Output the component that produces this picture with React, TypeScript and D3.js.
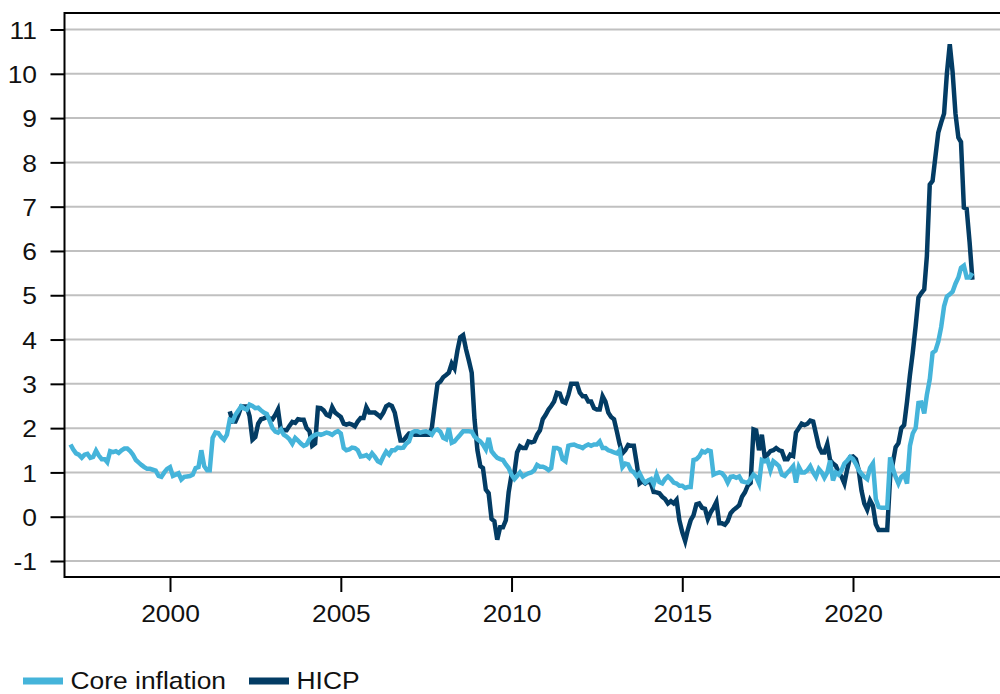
import { useEffect, useRef } from 'react';
import * as d3 from 'd3';

// monthly observations, plotted at month end
const coreStart = new Date(1997, 0, 1);
const hicpStart = new Date(2001, 8, 1);

const coreValues = [
  1.63, 1.52, 1.43, 1.4, 1.33, 1.4, 1.42, 1.33, 1.35, 1.49, 1.38, 1.3,
  1.3, 1.23, 1.48, 1.46, 1.48, 1.44, 1.5, 1.54, 1.54, 1.48, 1.4, 1.28,
  1.22, 1.17, 1.12, 1.08, 1.08, 1.06, 1.04, 0.92, 0.9, 1.0, 1.08, 1.12,
  0.92, 0.95, 0.98, 0.84, 0.9, 0.91, 0.92, 0.95, 1.1, 1.12, 1.5, 1.14,
  1.05, 1.05, 1.78, 1.9, 1.89, 1.8, 1.74, 1.85, 2.19, 2.16, 2.3, 2.4,
  2.49, 2.45, 2.42, 2.53, 2.5, 2.45, 2.46, 2.4, 2.35, 2.32, 2.17, 2.0,
  1.92, 1.9, 1.97, 1.85, 1.81, 1.75, 1.65, 1.78, 1.72, 1.65, 1.6, 1.63,
  1.75, 1.81, 1.85, 1.87, 1.85, 1.87, 1.9, 1.88, 1.85, 1.9, 1.93, 1.88,
  1.55, 1.5, 1.52, 1.56, 1.55, 1.5, 1.36, 1.37, 1.39, 1.33, 1.43, 1.35,
  1.25, 1.22, 1.36, 1.47, 1.4, 1.5, 1.5, 1.56, 1.55, 1.56, 1.65, 1.7,
  1.9, 1.93, 1.93, 1.9, 1.92, 1.93, 1.9, 1.85, 1.95, 1.97, 1.92, 1.78,
  1.75, 2.0, 1.67, 1.7, 1.78, 1.85, 1.93, 1.93, 1.93, 1.92, 1.81, 1.75,
  1.7, 1.63, 1.52, 1.78, 1.48, 1.4, 1.33, 1.3, 1.28, 1.18, 1.1, 0.95,
  0.85, 0.92, 1.0, 0.91, 0.95, 0.98, 1.0, 1.05, 1.17, 1.13, 1.13, 1.1,
  1.05, 1.1, 1.55, 1.55, 1.52, 1.3, 1.25, 1.6, 1.62, 1.63, 1.6, 1.58,
  1.55, 1.6, 1.63, 1.6, 1.63, 1.63, 1.7, 1.55, 1.55, 1.5, 1.48, 1.45,
  1.43, 1.5, 1.12, 1.2, 1.18, 1.05, 1.0, 0.91, 0.98, 0.85, 0.77, 0.82,
  0.85, 0.73, 0.95, 0.78, 0.75, 0.85, 0.91, 0.85, 0.77, 0.75, 0.7, 0.7,
  0.65, 0.67, 0.67, 1.28, 1.3, 1.36, 1.48, 1.45, 1.5, 1.48, 0.95, 0.98,
  1.0, 0.98, 0.9, 0.77, 0.9, 0.91, 0.88, 0.91, 0.8, 0.78, 0.77, 0.85,
  0.95, 0.9, 0.75, 1.28, 1.25, 1.28, 1.05, 1.25, 1.2, 1.14, 0.95, 0.92,
  1.0, 1.06, 1.14, 0.77, 1.12, 1.0, 1.0, 1.05, 1.14, 1.0, 0.9, 1.08,
  1.0, 0.88, 1.0, 1.27, 0.82, 1.0, 0.95, 1.05, 1.2, 1.27, 1.35, 1.3,
  1.19, 1.06, 0.97, 0.9, 0.85, 1.1, 1.2, 0.4, 0.22, 0.2, 0.2, 0.2,
  1.34, 1.1, 0.9, 0.75, 0.9, 0.95, 0.75, 1.6, 1.88, 2.0, 2.57, 2.58,
  2.33, 2.75, 3.1, 3.7, 3.75, 3.95, 4.28, 4.75, 4.97, 5.02, 5.08, 5.26,
  5.4, 5.62, 5.67, 5.4, 5.4, 5.5,
];

const hicpValues = [
  2.38, 2.15, 2.15, 2.3, 2.49, 2.49, 2.49, 2.27, 1.74, 1.8, 2.1, 2.2,
  2.22, 2.25, 2.22, 2.2, 2.3, 2.42, 1.95, 1.95, 1.95, 2.05, 2.14, 2.12,
  2.2, 2.19, 2.19, 2.0, 1.93, 1.6, 1.65, 2.46, 2.45, 2.4, 2.3, 2.27,
  2.47, 2.35, 2.3, 2.25, 2.1, 2.08, 2.1, 2.08, 2.04, 2.15, 2.23, 2.23,
  2.47, 2.35, 2.35, 2.35, 2.3, 2.25, 2.35, 2.49, 2.53, 2.5, 2.35, 2.02,
  1.72, 1.72, 1.8, 1.88, 1.88, 1.85, 1.85, 1.85, 1.85, 1.85, 1.85, 2.0,
  2.5, 3.0, 3.05, 3.15, 3.2, 3.25, 3.46, 3.35, 3.75, 4.05, 4.1, 3.78,
  3.53, 3.25, 2.2, 1.5, 1.14, 1.1, 0.61, 0.53, -0.05, -0.1, -0.52, -0.24,
  -0.24, -0.08, 0.55, 0.95, 1.0, 1.45, 1.59, 1.55, 1.55, 1.7, 1.68, 1.7,
  1.85, 1.95, 2.2, 2.3, 2.42, 2.5, 2.6, 2.8, 2.78, 2.6, 2.57, 2.75,
  3.0, 3.0, 3.0, 2.8, 2.72, 2.72, 2.6, 2.6, 2.45, 2.42, 2.42, 2.72,
  2.6, 2.35, 2.25, 2.2, 1.92, 1.65, 1.43, 1.5, 1.62, 1.6, 1.6, 1.2,
  0.75, 0.8, 0.75, 0.8, 0.75, 0.56, 0.55, 0.53, 0.45, 0.4, 0.3, 0.35,
  0.3, 0.38, -0.08, -0.35, -0.55, -0.3, -0.08, 0.03, 0.28, 0.3, 0.2, 0.18,
  -0.05, 0.1, 0.2, 0.33, -0.15, -0.15, -0.18, -0.1, 0.08, 0.15, 0.2, 0.26,
  0.45, 0.55, 0.7, 0.76, 1.97, 1.95, 1.5, 1.85, 1.35, 1.4, 1.48, 1.5,
  1.55, 1.5, 1.48, 1.3, 1.3, 1.4, 1.37, 1.9, 2.0, 2.1, 2.07, 2.1,
  2.17, 2.15, 1.87, 1.58, 1.45, 1.45, 1.64, 1.28, 1.2, 1.15, 1.0, 0.9,
  0.75, 1.08, 1.34, 1.36, 1.3, 1.06, 0.59, 0.3, 0.16, 0.37, 0.25, -0.17,
  -0.3, -0.3, -0.3, -0.3, 0.89, 1.2, 1.57, 1.66, 2.0, 2.07, 2.6, 3.2,
  3.7, 4.3, 4.95, 5.05, 5.13, 5.88, 7.5, 7.58, 8.14, 8.67, 8.9, 9.1,
  10.0, 10.67, 10.05, 9.1, 8.56, 8.46, 6.98, 6.95, 6.2, 5.35,
];

const yTicks = [-1, 0, 1, 2, 3, 4, 5, 6, 7, 8, 9, 10, 11];
const xTickYears = [2000, 2005, 2010, 2015, 2020];

const series = [
  { name: 'Core inflation', start: coreStart, values: coreValues, color: '#45b4da' },
  { name: 'HICP', start: hicpStart, values: hicpValues, color: '#033c64' },
];

const FONT = '"Liberation Sans", Arial, Helvetica, sans-serif';

export default function App() {
  const svgRef = useRef<SVGSVGElement>(null);

  useEffect(() => {
    const width = 1000;
    const plot = { left: 64.5, top: 13, right: 1000, bottom: 577 };

    const svg = d3.select(svgRef.current);
    svg.selectAll('*').remove();

    const x = d3.scaleTime()
      .domain([new Date(2000, 0, 1), new Date(2020, 0, 1)])
      .range([170, 853]);

    const y = d3.scaleLinear()
      .domain([-1, 11])
      .range([561, 29.5]);

    // gridlines
    svg.append('g')
      .selectAll('line')
      .data(yTicks)
      .join('line')
      .attr('x1', plot.left)
      .attr('x2', plot.right)
      .attr('y1', d => y(d))
      .attr('y2', d => y(d))
      .attr('stroke', '#c0c0c0')
      .attr('stroke-width', 2);

    // HICP underneath, core on top
    [...series].reverse().forEach(s => {
      const line = d3.line<number>()
        .x((d, i) => x(d3.timeMonth.offset(s.start, i + 1)))
        .y(d => y(d));

      svg.append('path')
        .datum(s.values)
        .attr('fill', 'none')
        .attr('stroke', s.color)
        .attr('stroke-width', 4.5)
        .attr('d', line);
    });

    // y axis (plain hyphen for negatives, as in the original)
    const yAxis = svg.append('g')
      .attr('transform', `translate(${plot.left},0)`)
      .call(d3.axisLeft(y).tickValues(yTicks).tickSize(14).tickSizeOuter(0).tickPadding(11)
        .tickFormat(d => String(d)))
      .attr('color', '#000')
      .attr('font-size', 24)
      .attr('font-family', FONT);
    yAxis.select('.domain').remove();
    yAxis.selectAll('line').attr('stroke-width', 2);
    yAxis.selectAll('text')
      .attr('dy', '0.36em')
      .attr('fill', '#111')
      .attr('transform', 'scale(1.1,1)');

    // x axis
    const xAxis = svg.append('g')
      .attr('transform', `translate(0,${plot.bottom})`)
      .call(d3.axisBottom(x)
        .tickValues(xTickYears.map(yr => new Date(yr, 0, 1)))
        .tickSize(15)
        .tickSizeOuter(0)
        .tickPadding(12.5)
        .tickFormat(d3.timeFormat('%Y') as any))
      .attr('color', '#000')
      .attr('font-size', 24)
      .attr('font-family', FONT);
    xAxis.select('.domain').remove();
    xAxis.selectAll('line').attr('stroke-width', 2);
    xAxis.selectAll('text')
      .attr('fill', '#111')
      .attr('transform', 'scale(1.1,1)');

    // frame: left, top, bottom
    const frame = svg.append('g').attr('stroke', '#000').attr('stroke-width', 2);
    frame.append('line').attr('x1', plot.left).attr('x2', plot.left).attr('y1', plot.top - 1).attr('y2', plot.bottom + 1);
    frame.append('line').attr('x1', plot.left).attr('x2', width).attr('y1', plot.top).attr('y2', plot.top);
    frame.append('line').attr('x1', plot.left).attr('x2', width).attr('y1', plot.bottom).attr('y2', plot.bottom);

    // legend
    const legendX = [23, 249];
    series.forEach((s, i) => {
      const g = svg.append('g').attr('transform', `translate(${legendX[i]},0)`);
      g.append('rect')
        .attr('x', 0)
        .attr('y', 677.5)
        .attr('width', 40)
        .attr('height', 7)
        .attr('fill', s.color);
      g.append('text')
        .attr('transform', 'translate(47.5,689) scale(1.1,1)')
        .attr('font-size', 24)
        .attr('font-family', FONT)
        .attr('fill', '#111')
        .text(s.name);
    });
  }, []);

  return (
    <svg
      ref={svgRef}
      width={1000}
      height={694}
      viewBox="0 0 1000 694"
      style={{ position: 'absolute', left: 0, top: 0, background: '#fff' }}
    />
  );
}
